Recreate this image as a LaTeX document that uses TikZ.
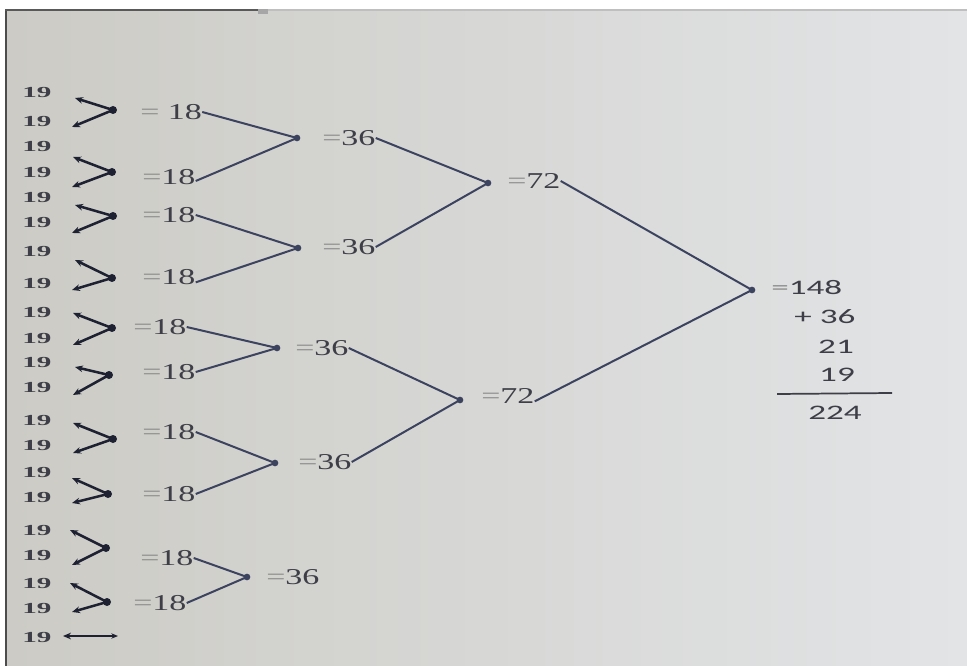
\documentclass[tikz,border=0pt]{standalone}
\usepackage{fontspec}
\usetikzlibrary{arrows.meta}
\newfontfamily\numserif[FakeStretch=1.5]{Liberation Serif}
\newfontfamily\nineserif[FakeStretch=1.9]{Liberation Serif}
\newfontfamily\sumsans[FakeStretch=1.7]{Carlito}
\definecolor{bgL}{RGB}{204,203,197}
\definecolor{bgR}{RGB}{226,228,230}
\definecolor{textc}{RGB}{62,62,72}
\definecolor{eqc}{RGB}{140,140,140}
\definecolor{linec}{RGB}{60,67,95}
\definecolor{darkc}{RGB}{30,33,50}
\newcommand\eqs{\textcolor{eqc}{=}}
\tikzset{
  lab/.style={font=\numserif\fontsize{17}{20}\selectfont, text=textc, inner sep=0pt, anchor=west},
  nine/.style={font=\nineserif\bfseries\fontsize{11.5}{13}\selectfont, text=textc, inner sep=0pt},
  sumt/.style={font=\sumsans\fontsize{15.5}{18}\selectfont, text=textc, inner sep=0pt},
  jdot/.style={circle, fill=darkc, inner sep=0pt, minimum size=6pt},
  sdot/.style={circle, fill=linec, inner sep=0pt, minimum size=5pt},
  pairline/.style={draw=darkc, line width=1.9pt, -{Stealth[length=6pt,width=5pt]}},
  conn/.style={draw=linec, line width=1.5pt},
}
\begin{document}
\begin{tikzpicture}[x=0.75pt,y=-0.75pt]
\useasboundingbox (0,0) rectangle (967,666);
\fill[white] (0,0) rectangle (967,666);
\shade[left color=bgL, right color=bgR] (5,10) rectangle (967,666);
\draw[line width=2pt, color=black!70] (6,10) -- (6,666);
\draw[line width=2pt, color=black!65] (5,10) -- (260,10);
\draw[line width=1.5pt, color=black!25] (260,10) -- (967,10);
\fill[black!35] (258,9) rectangle (268,14);

% column of 19s
\foreach \yy [count=\i] in {93,122,147,173,198,223,252,283,312,338,362,387,420,445,472,497,530,555,583,608,637}
  \node[nine] (t\i) at (37,\yy) {19};

% arrow tips
\coordinate (a1) at (75,98);   \coordinate (a2) at (72,127);
\coordinate (a3) at (73,157);  \coordinate (a4) at (72,187);
\coordinate (a5) at (75,205);  \coordinate (a6) at (72,233);
\coordinate (a7) at (75,260);  \coordinate (a8) at (72,290);
\coordinate (a9) at (73,313);  \coordinate (a10) at (73,345);
\coordinate (a11) at (75,367); \coordinate (a12) at (73,395);
\coordinate (a13) at (73,423); \coordinate (a14) at (73,453);
\coordinate (a15) at (72,478); \coordinate (a16) at (72,503);
\coordinate (a17) at (70,530); \coordinate (a18) at (72,565);
\coordinate (a19) at (70,583); \coordinate (a20) at (72,612);

% pair junctions
\node[jdot] (m1) at (113,110) {};
\node[jdot] (m2) at (112,172) {};
\node[jdot] (m3) at (113,216) {};
\node[jdot] (m4) at (112,278) {};
\node[jdot] (m5) at (112,328) {};
\node[jdot] (m6) at (109,375) {};
\node[jdot] (m7) at (113,439) {};
\node[jdot] (m8) at (108,494) {};
\node[jdot] (m9) at (106,548) {};
\node[jdot] (m10) at (107,602) {};

\foreach \k [evaluate=\k as \u using int(2*\k-1), evaluate=\k as \v using int(2*\k)] in {1,...,10} {
  \draw[pairline] (m\k.center) -- (a\u);
  \draw[pairline] (m\k.center) -- (a\v);
}

% single 19
\coordinate (s1) at (63,636);
\coordinate (s2) at (118,636);
\draw[draw=darkc, line width=1.8pt, {Stealth[length=6pt,width=5pt]}-{Stealth[length=5pt,width=4pt]}] (s1) -- (s2);

% =18 labels
\node[lab] (e1) at (140,112) {\eqs\ 18};
\node[lab] (e2) at (142,177) {\eqs 18};
\node[lab] (e3) at (142,215) {\eqs 18};
\node[lab] (e4) at (142,277) {\eqs 18};
\node[lab] (e5) at (133,327) {\eqs 18};
\node[lab] (e6) at (142,372) {\eqs 18};
\node[lab] (e7) at (142,432) {\eqs 18};
\node[lab] (e8) at (142,494) {\eqs 18};
\node[lab] (e9) at (140,558) {\eqs 18};
\node[lab] (e10) at (133,603) {\eqs 18};

% 36 junctions
\node[sdot] (d1) at (297,138) {};
\node[sdot] (d2) at (298,248) {};
\node[sdot] (d3) at (277,348) {};
\node[sdot] (d4) at (275,463) {};
\node[sdot] (d5) at (247,577) {};

\draw[conn] (e1.east) -- (d1.center);
\draw[conn] ([yshift=-3pt]e2.east) -- (d1.center);
\draw[conn] (e3.east) -- (d2.center);
\draw[conn] ([yshift=-4pt]e4.east) -- (d2.center);
\draw[conn] (e5.east) -- (d3.center);
\draw[conn] (e6.east) -- (d3.center);
\draw[conn] (e7.east) -- (d4.center);
\draw[conn] (e8.east) -- (d4.center);
\draw[conn] (e9.east) -- (d5.center);
\draw[conn] (e10.east) -- (d5.center);

% =36 labels
\node[lab] (f1) at (322,138) {\eqs 36};
\node[lab] (f2) at (322,247) {\eqs 36};
\node[lab] (f3) at (295,348) {\eqs 36};
\node[lab] (f4) at (298,462) {\eqs 36};
\node[lab] (f5) at (266,577) {\eqs 36};

% 72 junctions
\node[sdot] (g1) at (488,183) {};
\node[sdot] (g2) at (460,400) {};
\draw[conn] (f1.east) -- (g1.center);
\draw[conn] (f2.east) -- (g1.center);
\draw[conn] (f3.east) -- (g2.center);
\draw[conn] (f4.east) -- (g2.center);

% =72 labels
\node[lab] (h1) at (507,181) {\eqs 72};
\node[lab] (h2) at (481,396) {\eqs 72};

% 148 junction
\node[sdot] (k) at (752,290) {};
\draw[conn] (h1.east) -- (k.center);
\draw[conn] ([yshift=-4pt]h2.east) -- (k.center);

% sum
\node[sumt, anchor=west] (n148) at (771,288) {\eqs 148};
\node[sumt] (n36) at (825,317) {+ 36};
\node[sumt] (n21) at (836,347) {21};
\node[sumt] (n19) at (837,375) {19};
\coordinate (r1) at (777,394);
\coordinate (r2) at (892,393);
\draw[draw=textc, line width=1.3pt] (r1) -- (r2);
\node[sumt] (n224) at (835,413) {224};
\end{tikzpicture}
\end{document}
